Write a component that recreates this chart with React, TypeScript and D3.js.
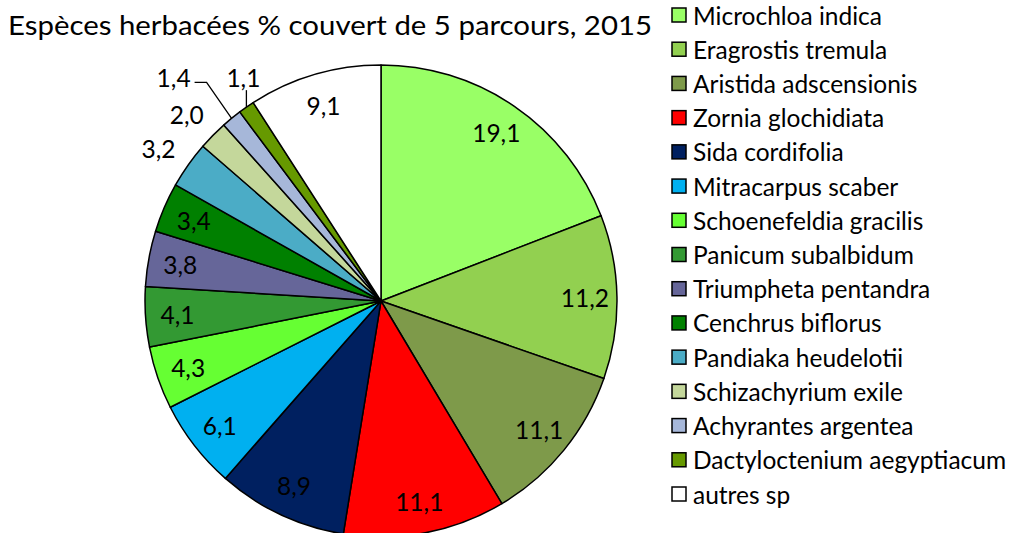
import React from "react";
import * as d3 from "d3";

const title = "Espèces herbacées % couvert de 5 parcours, 2015";
const species = [
  "Microchloa indica",
  "Eragrostis tremula",
  "Aristida adscensionis",
  "Zornia glochidiata",
  "Sida cordifolia",
  "Mitracarpus scaber",
  "Schoenefeldia gracilis",
  "Panicum subalbidum",
  "Triumpheta pentandra",
  "Cenchrus biflorus",
  "Pandiaka heudelotii",
  "Schizachyrium exile",
  "Achyrantes argentea",
  "Dactyloctenium aegyptiacum",
  "autres sp",
];
const values = [19.1, 11.2, 11.1, 11.1, 8.9, 6.1, 4.3, 4.1, 3.8, 3.4, 3.2, 2.0, 1.4, 1.1, 9.1];
const colors = [
  "#99FF66", "#92D050", "#7E9A4A", "#FF0000", "#002060", "#00B0F0", "#66FF33",
  "#339933", "#666699", "#008000", "#4BACC6", "#C4D79B", "#A6B7D9", "#669900", "#FFFFFF",
];
// label placement: "in" inside, "out" outside, "leaderL"/"leaderU" outside with leader lines
const labelMode = ["in","in","in","in","in","in","in","in","in","in","out","out","leaderL","leaderU","in"];

const W = 1011, H = 533;
const cx = 381, cy = 301, R = 236;
const FONT = "Lato, 'Open Sans', sans-serif";
const LABEL_SIZE = 24.5;

function fmt(v: number) {
  return v.toFixed(1).replace(".", ",");
}

export default function App() {
  const pie = d3.pie<number>().sort(null).value((d) => d).startAngle(0).endAngle(2 * Math.PI);
  const arcs = pie(values);
  const arcGen = d3.arc<d3.PieArcDatum<number>>().innerRadius(0).outerRadius(R);
  const inArc = d3.arc<d3.PieArcDatum<number>>().innerRadius(204).outerRadius(204);
  const outArc = d3.arc<d3.PieArcDatum<number>>().innerRadius(270).outerRadius(270);
  const edgeArc = d3.arc<d3.PieArcDatum<number>>().innerRadius(R).outerRadius(R);

  const legendY = d3.scalePoint<number>().domain(d3.range(species.length)).range([15, 494]);

  return (
    <svg width={W} height={H} style={{ position: "absolute", left: 0, top: 0, background: "#fff" }}>
      <text x={8} y={35} fontFamily={FONT} fontSize={26.5} textLength={644} lengthAdjust="spacingAndGlyphs" fill="#000">
        {title}
      </text>
      <g transform={`translate(${cx},${cy})`}>
        {arcs.map((a, i) => (
          <path key={i} d={arcGen(a) || ""} fill={colors[i]} stroke="#000" strokeWidth={1.5} strokeLinejoin="round" />
        ))}
        {arcs.map((a, i) => {
          const mode = labelMode[i];
          const t = fmt(values[i]);
          if (mode === "in") {
            const [x, y] = inArc.centroid(a);
            return (
              <text key={i} x={x} y={y} textAnchor="middle" dominantBaseline="central" fontFamily={FONT} fontSize={LABEL_SIZE} fill="#000">{t}</text>
            );
          }
          if (mode === "out") {
            const [x, y] = outArc.centroid(a);
            return (
              <text key={i} x={x - 2} y={y + 3} textAnchor="middle" dominantBaseline="central" fontFamily={FONT} fontSize={LABEL_SIZE} fill="#000">{t}</text>
            );
          }
          const [ex, ey] = edgeArc.centroid(a);
          if (mode === "leaderL") {
            const elbow: [number, number] = [ex - 25, ey - 36];
            return (
              <g key={i}>
                <polyline points={`${ex},${ey} ${elbow[0]},${elbow[1]} ${elbow[0] - 12},${elbow[1]}`} fill="none" stroke="#000" strokeWidth={1.3} />
                <text x={elbow[0] - 16} y={elbow[1] - 5} textAnchor="end" dominantBaseline="central" fontFamily={FONT} fontSize={LABEL_SIZE} fill="#000">{t}</text>
              </g>
            );
          }
          return (
            <g key={i}>
              <line x1={ex} y1={ey} x2={ex} y2={ey - 17} stroke="#000" strokeWidth={1.3} />
              <text x={ex - 3} y={ey - 30} textAnchor="middle" dominantBaseline="central" fontFamily={FONT} fontSize={LABEL_SIZE} fill="#000">{t}</text>
            </g>
          );
        })}
      </g>
      <g>
        {species.map((s, i) => {
          const y = legendY(i) as number;
          return (
            <g key={s}>
              <rect x={672} y={y - 7} width={14} height={14} fill={colors[i]} stroke="#000" strokeWidth={1.5} />
              <text x={693} y={y} dominantBaseline="central" fontFamily={FONT} fontSize={24.5} fill="#000">{s}</text>
            </g>
          );
        })}
      </g>
    </svg>
  );
}
